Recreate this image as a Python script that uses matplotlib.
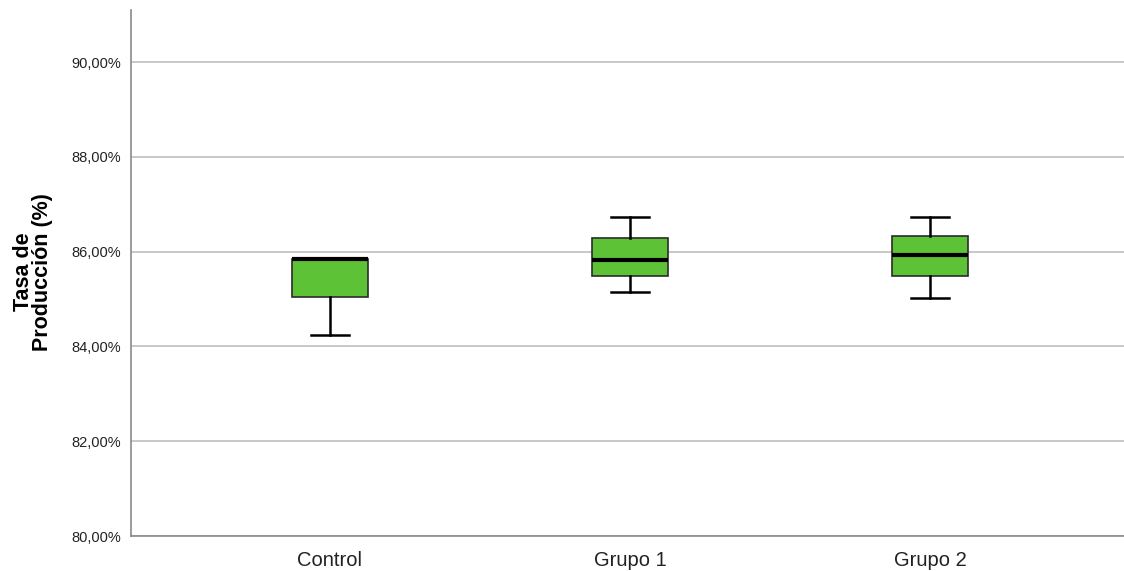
import matplotlib.pyplot as plt

# Tasa de producción por grupo (%)
grupos = ["Control", "Grupo 1", "Grupo 2"]
minimo = [84.25, 85.15, 85.03]
q1 = [85.04, 85.49, 85.48]
mediana = [85.84, 85.83, 85.94]
q3 = [85.84, 86.28, 86.33]
maximo = [85.84, 86.73, 86.73]
yticks = [80, 82, 84, 86, 88, 90]

plt.rcParams["font.family"] = ["Liberation Sans", "DejaVu Sans"]

stats = []
for i, g in enumerate(grupos):
    stats.append({
        "label": g,
        "whislo": minimo[i],
        "q1": q1[i],
        "med": mediana[i],
        "q3": q3[i],
        "whishi": maximo[i],
        "fliers": [],
    })

fig = plt.figure(figsize=(11.24, 5.71), dpi=100)
ax = fig.add_axes([131 / 1124, 35 / 571, 993 / 1124, 526 / 571])

ax.bxp(
    stats,
    positions=range(len(grupos)),
    widths=0.253,
    patch_artist=True,
    showfliers=False,
    boxprops=dict(facecolor="#5EC236", edgecolor="#2b2b2b", linewidth=1.2),
    medianprops=dict(color="black", linewidth=3),
    whiskerprops=dict(color="black", linewidth=1.8),
    capprops=dict(color="black", linewidth=1.8),
    capwidths=0.127,
    zorder=3,
)

ax.set_xlim(-0.663, 2.647)
ax.set_ylim(80, 91.1)
ax.set_yticks(yticks)
ax.set_yticklabels([f"{v:.2f}%".replace(".", ",") for v in yticks], fontsize=10.5, color="#222222")
ax.set_xticks(range(len(grupos)))
ax.set_xticklabels(grupos, fontsize=14.5, color="#222222")
ax.tick_params(axis="y", length=0, pad=7)
ax.tick_params(axis="x", length=0, pad=11)

ax.yaxis.grid(True, color="#c4c4c4", linewidth=1.3, zorder=0)
ax.set_axisbelow(True)
for side in ["top", "right"]:
    ax.spines[side].set_visible(False)
for side in ["left", "bottom"]:
    ax.spines[side].set_color("#8a8a8a")
    ax.spines[side].set_linewidth(1.2)

ax.set_ylabel("Tasa de\nProducción (%)", fontsize=15.5, fontweight="bold",
              linespacing=0.9)
ax.yaxis.set_label_coords(-0.0785, 0.502)

fig.savefig("out.png", dpi=100)
